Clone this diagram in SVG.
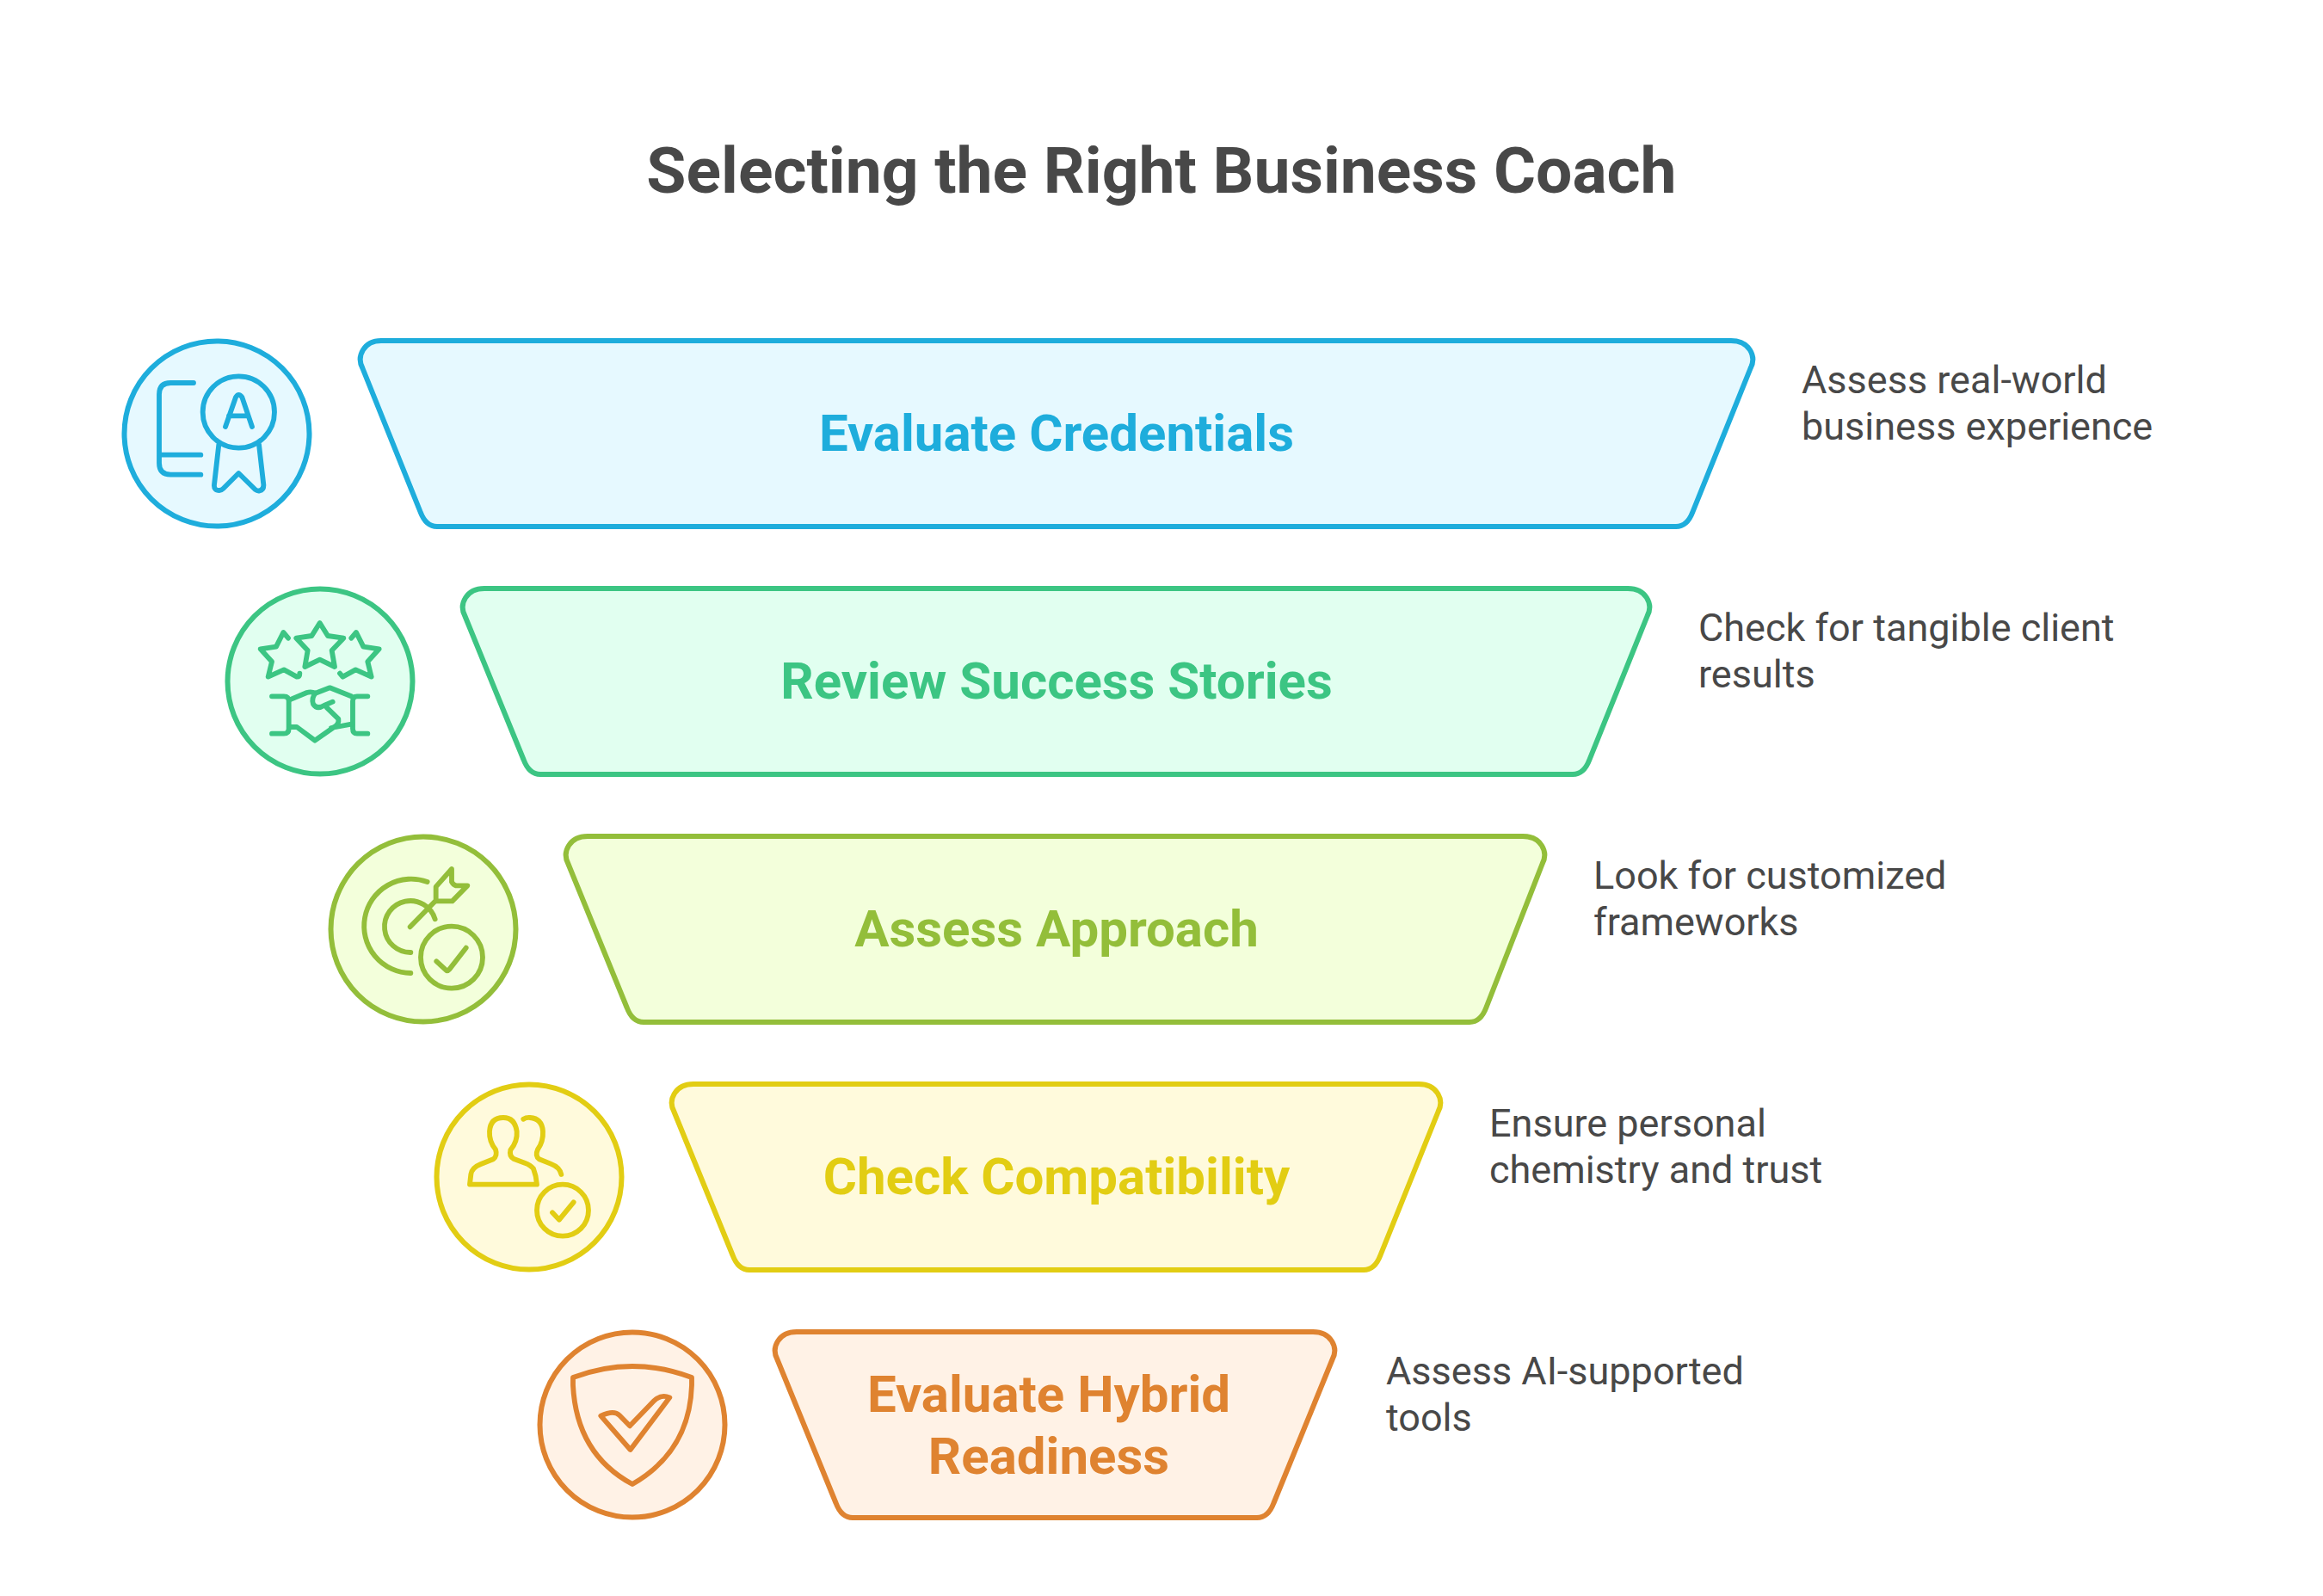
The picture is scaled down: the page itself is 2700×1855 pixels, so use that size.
<svg xmlns="http://www.w3.org/2000/svg" width="2700" height="1855" viewBox="0 0 2700 1855">
<style>
text{font-family:Roboto,"Liberation Sans",sans-serif}
.title{font-size:75px;font-weight:700;fill:#484848;text-anchor:middle}
.lbl{font-size:60px;font-weight:700;text-anchor:middle}
.desc{font-size:45px;font-weight:400;fill:#484848}
.b,.g,.l,.y,.o{stroke-width:6;stroke-linejoin:round}
.i{fill:none;stroke-width:17.500;stroke-linecap:round;stroke-linejoin:round}
.b{stroke:#1eaddc;fill:#e6f9ff}.g{stroke:#3cc583;fill:#e1fff0}.l{stroke:#93be3a;fill:#f3ffdb}.y{stroke:#e2cd13;fill:#fffadc}.o{stroke:#df8330;fill:#fff2e6}
.tb{fill:#1eaddc}.tg{fill:#3cc583}.tl{fill:#93be3a}.ty{fill:#e2cd13}.to{fill:#df8330}
</style>
<rect width="2700" height="1855" fill="#fff"/>
<text class="title" x="1350" y="224">Selecting the Right Business Coach</text>
<g id="connectors"/>
<g id="step1">
<path class="b" d="M443,396H2012C2033,396 2042,414 2034.6,428L1967.400,595Q1961,612 1948,612H508Q495,612 488.600,595L421.400,428C414,414 423,396 443,396Z"/>
<text class="lbl tb" x="1228" y="524">Evaluate Credentials</text>
<circle class="b" cx="252" cy="504" r="107.500"/>
<g class="i" stroke="#1eaddc" transform="translate(120,370) scale(.33333)">
<path d="M315,225H235Q195,225 195,265V505Q195,545 235,545H340M197,476H340"/>
<circle cx="472" cy="327" r="125"/>
<path d="M403,440L387,580Q385,600 405,600Q412,600 418,594L472,540L530,597Q538,603 545,601Q560,598 559,580L543,440"/>
<path d="M426,378L462,275Q472,258 484,275L519,378M438,340H506"/>
</g>
<text class="desc" x="2094" y="457">Assess real-world</text>
<text class="desc" x="2094" y="511">business experience</text>
</g>
<g id="step2">
<path class="g" d="M563,684H1892C1913,684 1922,702 1914.6,716L1847.400,883Q1841,900 1828,900H628Q615,900 608.600,883L540.400,716C533,702 542,684 563,684Z"/>
<text class="lbl tg" x="1228" y="812">Review Success Stories</text>
<circle class="g" cx="372" cy="792" r="107.500"/>
<g class="i" stroke="#3cc583" transform="translate(240,670) scale(.33333)">
<path d="M395,162L423,207L478,215L437,258L447,315L395,290L343,315L353,258L313,215L367,207Z"/>
<path d="M285,215L268,195L243,245L188,253L228,297L215,350L270,325L315,350Q325,350 325,338"/>
<path d="M505,215L522,195L547,245L602,253L562,297L575,350L520,325L475,350L465,338"/>
<path d="M228,418H270Q287,418 287,435V530Q287,548 270,548H228M562,418H525Q510,418 510,435V530Q510,548 525,548H562"/>
<path d="M290,430L350,405Q365,400 380,407L430,388L505,418M380,407Q365,425 372,445Q385,465 410,450L440,437M420,458L460,497Q463,515 445,525L378,572L315,525H290M435,528L505,515"/>
</g>
<text class="desc" x="1974" y="745">Check for tangible client</text>
<text class="desc" x="1974" y="799">results</text>
</g>
<g id="step3">
<path class="l" d="M683,972H1770C1791,972 1800,990 1792.6,1004L1727.400,1171Q1721,1188 1708,1188H748Q735,1188 728.600,1171L660.400,1004C653,990 662,972 683,972Z"/>
<text class="lbl tl" x="1228" y="1100">Assess Approach</text>
<circle class="l" cx="492" cy="1080" r="107.500"/>
<g class="i" stroke="#93be3a" transform="translate(360,960) scale(.33333)">
<path d="M410,195A164,164 0 1 0 352,513M437,325A90,90 0 1 0 352,441M350,352L435,265"/>
<path d="M440,212L495,150V195Q500,205 510,208H550L497,262H440Z"/>
<circle cx="495" cy="458" r="108"/>
<path d="M442,472L478,505Q483,505 487,500L545,425"/>
</g>
<text class="desc" x="1852" y="1033">Look for customized</text>
<text class="desc" x="1852" y="1087">frameworks</text>
</g>
<g id="step4">
<path class="y" d="M806,1260H1649C1670,1260 1679,1278 1671.6,1292L1604.400,1459Q1598,1476 1585,1476H871Q858,1476 851.600,1459L783.400,1292C776,1278 785,1260 806,1260Z"/>
<text class="lbl ty" x="1228" y="1388">Check Compatibility</text>
<circle class="y" cx="615" cy="1368" r="107.500"/>
<g class="i" stroke="#e2cd13" transform="translate(490,1250) scale(.33333)">
<path d="M168,380H402Q400,350 390,325Q380,312 360,305L320,290Q305,280 310,260Q335,230 332,195Q325,147 285,147Q240,147 237,195Q235,230 258,258Q265,280 250,292L205,310Q175,322 172,345Z"/>
<path d="M355,152Q365,146 378,147Q420,150 423,195Q425,230 405,258Q395,280 410,292L450,308Q482,320 487,345"/>
<circle cx="492" cy="470" r="90"/>
<path d="M456,478L480,503L530,442"/>
</g>
<text class="desc" x="1731" y="1321">Ensure personal</text>
<text class="desc" x="1731" y="1375">chemistry and trust</text>
</g>
<g id="step5">
<path class="o" d="M926,1548H1526C1547,1548 1556,1566 1548.600,1580L1480.400,1747Q1474,1764 1461,1764H991Q978,1764 971.600,1747L903.400,1580C896,1566 905,1548 926,1548Z"/>
<text class="lbl to" x="1219" y="1641">Evaluate Hybrid</text>
<text class="lbl to" x="1219" y="1713">Readiness</text>
<circle class="o" cx="735" cy="1656" r="107.500"/>
<g class="i" stroke="#df8330" transform="translate(610,1530) scale(.33333)">
<path d="M168,213Q375,135 582,213V240Q575,470 375,585Q180,480 168,240Z"/>
<path d="M265,347Q310,325 330,345L366,382L450,295Q475,270 505,283L368,465Z"/>
</g>
<text class="desc" x="1611" y="1609">Assess AI-supported</text>
<text class="desc" x="1611" y="1663">tools</text>
</g>
</svg>
